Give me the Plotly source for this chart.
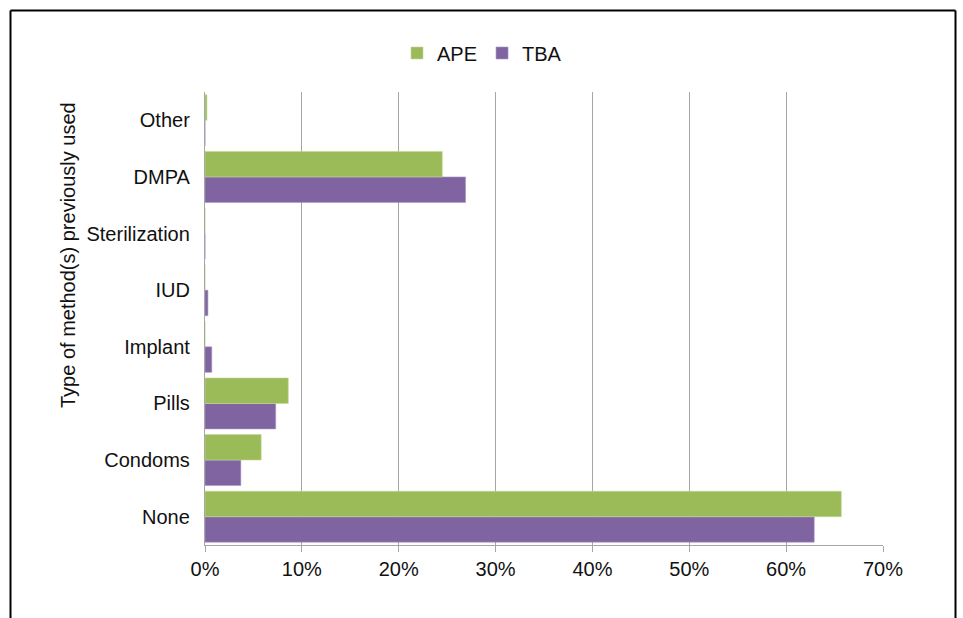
import plotly.graph_objects as go

categories = ["None", "Condoms", "Pills", "Implant", "IUD", "Sterilization", "DMPA", "Other"]
ape = [65.7, 5.8, 8.6, 0.0, 0.0, 0.0, 24.5, 0.2]
tba = [62.9, 3.7, 7.3, 0.7, 0.3, 0.0, 26.9, 0.0]
xticks = [0, 10, 20, 30, 40, 50, 60, 70]
xticklabels = ["0%", "10%", "20%", "30%", "40%", "50%", "60%", "70%"]

GREEN = "#9BBB59"
PURPLE = "#8064A2"
FONT = "Liberation Sans, Arial, sans-serif"
FS = 20

fig = go.Figure()
fig.add_trace(go.Bar(y=categories, x=tba, name="TBA", orientation="h",
                     marker=dict(color=PURPLE, line=dict(color="#a898c4", width=0.6)),
                     legendrank=2))
fig.add_trace(go.Bar(y=categories, x=ape, name="APE", orientation="h",
                     marker=dict(color=GREEN, line=dict(color="#c4d89a", width=0.6)),
                     legendrank=1))

L, R, T, B = 205, 80, 92, 73
W, H = 963, 618
pw = W - L - R
ph = H - T - B

def px_x(px):
    return (px - L) / pw

def px_y(py):
    return (H - B - py) / ph

fig.update_layout(
    width=W, height=H,
    margin=dict(l=L, r=R, t=T, b=B, pad=0),
    paper_bgcolor="white", plot_bgcolor="white",
    barmode="group", bargap=0.1, bargroupgap=0,
    font=dict(family=FONT, size=FS, color="#111111"),
    showlegend=True,
    legend=dict(orientation="h", x=px_x(482), xanchor="center",
                y=px_y(53), yanchor="middle",
                font=dict(family=FONT, size=FS, color="#111111"),
                itemwidth=30, tracegroupgap=0,
                bgcolor="rgba(0,0,0,0)"),
    xaxis=dict(range=[0, 70], tickvals=xticks, ticktext=xticklabels,
               showgrid=True, gridcolor="#a6a6a6", gridwidth=1.3,
               zeroline=False, showline=True, linecolor="#a6a6a6", linewidth=1.3,
               ticks="outside", ticklen=6, tickcolor="#a6a6a6", tickwidth=1.3,
               tickfont=dict(family=FONT, size=FS, color="#111111"),
               fixedrange=True),
    yaxis=dict(categoryorder="array", categoryarray=categories,
               showgrid=False, zeroline=False, showline=True,
               linecolor="#a6a6a6", linewidth=1.3, ticks="",
               ticklabelstandoff=10,
               tickfont=dict(family=FONT, size=FS, color="#111111"),
               fixedrange=True),
)

fig.add_annotation(text="Type of method(s) previously used", textangle=-90,
                   xref="paper", yref="paper", x=px_x(68), y=px_y(255),
                   xanchor="center", yanchor="middle", showarrow=False,
                   font=dict(family=FONT, size=FS, color="#111111"))

# outer frame (left, top, right edges; bottom is cropped in the reference)
x0, x1 = px_x(10.5), px_x(955.5)
y0, y1 = px_y(625), px_y(10.5)
for (ax, ay, bx, by) in [(x0, y0, x0, y1), (x0, y1, x1, y1), (x1, y1, x1, y0)]:
    fig.add_shape(type="line", xref="paper", yref="paper", x0=ax, y0=ay, x1=bx, y1=by,
                  line=dict(color="black", width=2))

fig.write_html("out.html")
